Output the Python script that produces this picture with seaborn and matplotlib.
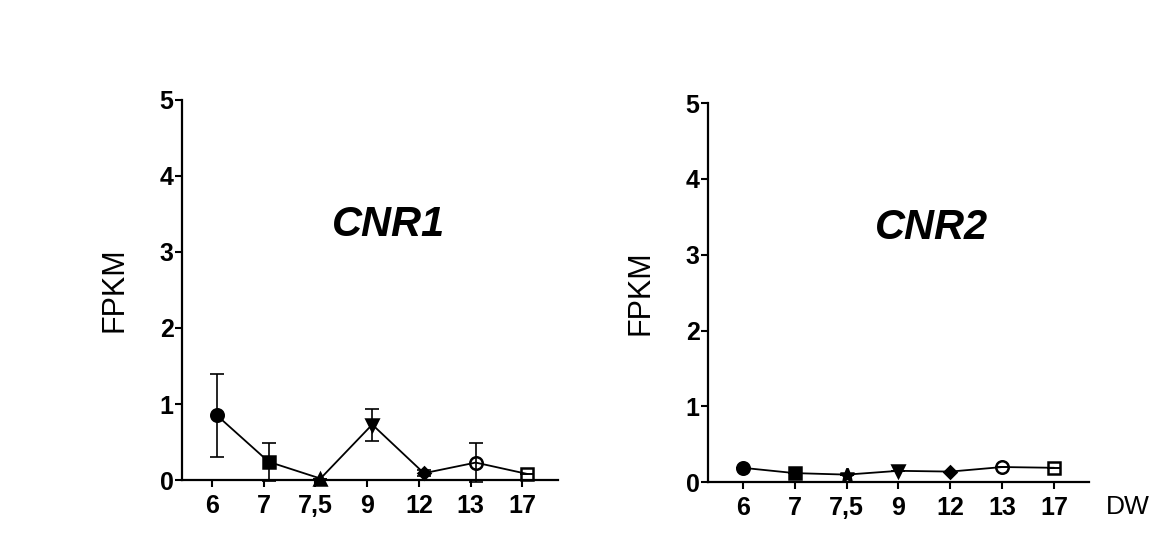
import numpy as np
import pandas as pd
import matplotlib
matplotlib.use("Agg")
import matplotlib.pyplot as plt
import matplotlib.transforms as mtrans
import seaborn as sns

# days of development (x categories)
days = ["6", "7", "7,5", "9", "12", "13", "17"]

# CNR1 expression (FPKM) with error bars
cnr1_mean = [0.85, 0.24, 0.02, 0.73, 0.09, 0.23, 0.08]
cnr1_err = [0.55, 0.25, 0.0, 0.21, 0.04, 0.26, 0.0]

# CNR2 expression (FPKM)
cnr2_mean = [0.19, 0.12, 0.10, 0.15, 0.14, 0.20, 0.19]
cnr2_err = [0.0, 0.0, 0.0, 0.0, 0.0, 0.0, 0.0]

left_markers = ["o", "s", "^", "v", "D", "o", "s"]
right_markers = ["o", "s", "*", "v", "D", "o", "s"]
filled = [True, True, True, True, True, False, False]
msizes = {"o": 9, "s": 8.5, "^": 9, "*": 10, "v": 9, "D": 6}

sns.set_style("ticks")
plt.rcParams["font.family"] = ["Liberation Sans", "DejaVu Sans"]
for k in ["text.color", "axes.labelcolor", "xtick.color", "ytick.color"]:
    plt.rcParams[k] = "black"

fig = plt.figure(figsize=(11.74, 5.34), dpi=100)
ax1 = fig.add_axes([0.155, 0.101, 0.320, 0.712])
ax2 = fig.add_axes([0.603, 0.097, 0.325, 0.710])


def draw_panel(ax, mean, err, markers, title, xmin, shift_px, title_x):
    df = pd.DataFrame({"pos": np.arange(len(days)), "fpkm": mean, "err": err})
    # small horizontal offset of the data relative to the ticks (as in original)
    tr = ax.transData + mtrans.ScaledTranslation(shift_px / 100, 0, fig.dpi_scale_trans)
    sns.lineplot(data=df, x="pos", y="fpkm", color="black", lw=1.3, ax=ax,
                 transform=tr, clip_on=False)
    ax.errorbar(df["pos"], df["fpkm"], yerr=df["err"], fmt="none", ecolor="black",
                elinewidth=1.2, capsize=5, capthick=1.2, transform=tr, clip_on=False)
    for i, row in df.iterrows():
        m = markers[i]
        ax.plot(row["pos"], row["fpkm"], marker=m, ms=msizes[m], color="black",
                mfc="black" if filled[i] else "none", mew=1.8, transform=tr,
                clip_on=False, zorder=5)
    ax.set_xlim(xmin, 6.68)
    ax.set_ylim(0, 5)
    ax.set_xticks(np.arange(len(days)))
    ax.set_xticklabels(days)
    ax.set_yticks([0, 1, 2, 3, 4, 5])
    ax.set_xlabel("")
    ax.set_ylabel("FPKM", fontsize=22, labelpad=22)
    for lab in ax.get_xticklabels() + ax.get_yticklabels():
        lab.set_fontweight("bold")
    ax.tick_params(axis="x", labelsize=18, length=5, width=1.5, pad=5)
    ax.tick_params(axis="y", labelsize=18, length=5, width=1.5, pad=1)
    for s in ["left", "bottom"]:
        ax.spines[s].set_linewidth(1.6)
        ax.spines[s].set_color("black")
    sns.despine(ax=ax)
    ax.text(title_x, 0.67, title, transform=ax.transAxes, ha="center", va="center",
            fontsize=30, fontweight="bold", fontstyle="italic")


draw_panel(ax1, cnr1_mean, cnr1_err, left_markers, "CNR1", -0.58, 5, 0.55)
draw_panel(ax2, cnr2_mean, cnr2_err, right_markers, "CNR2", -0.67, 0, 0.585)

fig.text(1128 / 1174, 1 - 507 / 534, "DW", fontsize=19, ha="center", va="center")

fig.savefig("out.png", dpi=100)
